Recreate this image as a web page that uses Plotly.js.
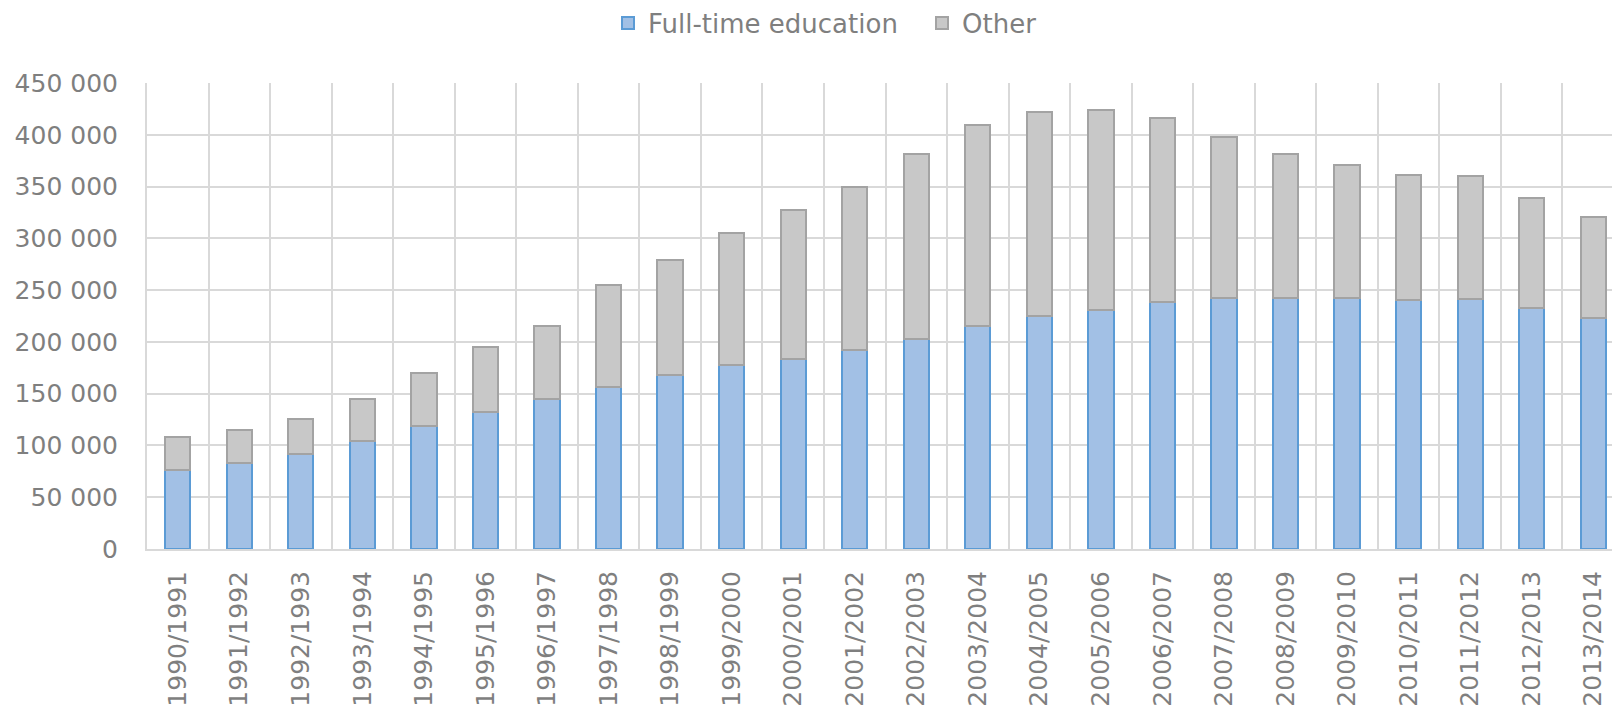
<!DOCTYPE html>
<html>
<head>
<meta charset="utf-8">
<script src="https://cdn.plot.ly/plotly-3.0.1.min.js"></script>
<style>
html, body { margin: 0; padding: 0; overflow: hidden; background: #ffffff; width: 1612px; height: 712px; }
#chart { width: 1640px; height: 712px; }
</style>
</head>
<body>
<div id="chart"></div>
<script>
const years = ["1990/1991","1991/1992","1992/1993","1993/1994","1994/1995","1995/1996","1996/1997","1997/1998","1998/1999","1999/2000","2000/2001","2001/2002","2002/2003","2003/2004","2004/2005","2005/2006","2006/2007","2007/2008","2008/2009","2009/2010","2010/2011","2011/2012","2012/2013","2013/2014"];
const fullTime = [76300,82800,92100,104700,118600,132700,145200,156500,167800,177500,183900,192600,203200,215800,225100,231200,238400,242500,242500,242200,240600,241600,233200,223500];
const other = [32200,31900,33800,39900,51500,62800,70000,98300,111500,128100,143700,156500,178500,193600,196500,193000,178100,155300,138900,128200,120800,118200,105700,97000];

const textColor = "#7f7f7f";
const gridColor = "#d9d9d9";
const fontFamily = "DejaVu Sans, Liberation Sans, sans-serif";

const traces = [
  {
    type: "bar", name: "Full-time education", x: years, y: fullTime,
    marker: { color: "#a2c0e5", line: { color: "#5b9bd5", width: 2 } },
    hoverinfo: "x+y"
  },
  {
    type: "bar", name: "Other", x: years, y: other,
    marker: { color: "#c8c8c8", line: { color: "#a3a3a3", width: 2 } },
    hoverinfo: "x+y"
  }
];

const layout = {
  width: 1640, height: 712,
  margin: { l: 147, r: 16, t: 83, b: 163 },
  barmode: "stack",
  bargap: 0.59,
  paper_bgcolor: "#ffffff",
  plot_bgcolor: "#ffffff",
  separators: ". ",
  font: { family: fontFamily, size: 25, color: textColor },
  showlegend: true,
  legend: {
    orientation: "h",
    xref: "container", yref: "container",
    x: 608 / 1640, xanchor: "left",
    y: 1 - 23 / 712, yanchor: "middle",
    entrywidth: 269,
    font: { family: fontFamily, size: 26, color: textColor },
    bgcolor: "rgba(0,0,0,0)",
    traceorder: "normal"
  },
  xaxis: {
    type: "category",
    tickson: "boundaries",
    showgrid: true, gridcolor: gridColor, gridwidth: 2,
    showline: true, linecolor: gridColor, linewidth: 2,
    ticks: "",
    tickangle: -90,
    ticklabelstandoff: 10,
    tickfont: { family: fontFamily, size: 25, color: textColor },
    range: [-0.5, 23.5],
    fixedrange: true
  },
  yaxis: {
    range: [0, 450000],
    dtick: 50000,
    tick0: 0,
    tickformat: ",d",
    showgrid: true, gridcolor: gridColor, gridwidth: 2,
    showline: true, linecolor: gridColor, linewidth: 2,
    zeroline: false,
    ticks: "",
    ticklabelstandoff: 22,
    tickfont: { family: fontFamily, size: 25, color: textColor },
    fixedrange: true
  }
};

Plotly.newPlot("chart", traces, layout, { displayModeBar: false, staticPlot: true });
</script>
</body>
</html>
